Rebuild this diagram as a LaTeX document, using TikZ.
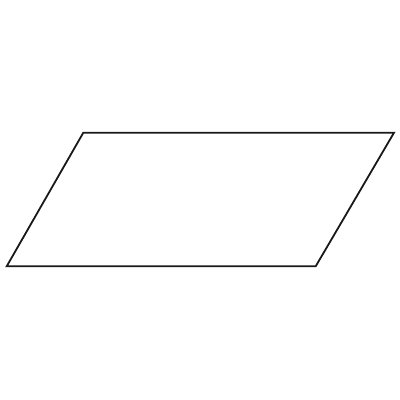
\documentclass[tikz,border=0pt]{standalone}
\begin{document}
\begin{tikzpicture}[x=1pt,y=-1pt,
  shapeline/.style={draw=black!90,line width=1.8pt,line join=miter}]
\useasboundingbox (0,0) rectangle (400,400);
\coordinate (tl) at (83.3,132.7);
\coordinate (tr) at (394,132.7);
\coordinate (br) at (315.7,266.3);
\coordinate (bl) at (6.7,266.3);
\draw[shapeline] (tl) -- (tr) -- (br) -- (bl) -- cycle;
\end{tikzpicture}
\end{document}
